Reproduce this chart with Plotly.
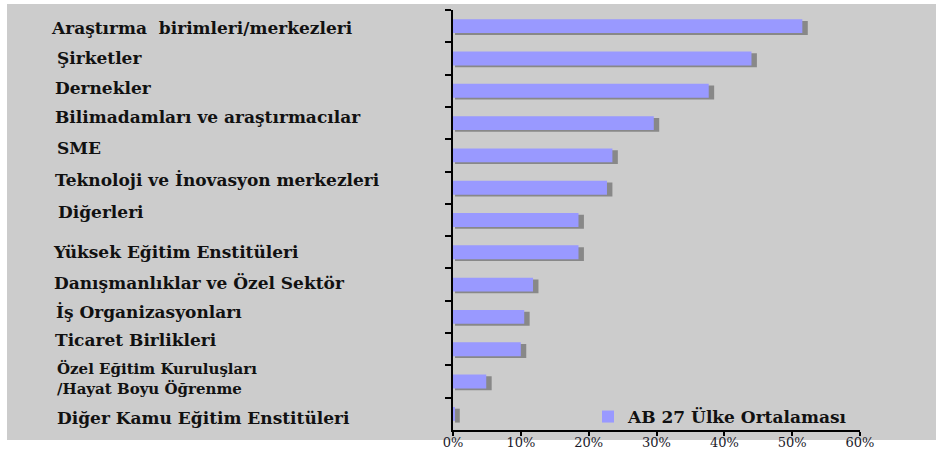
import plotly.graph_objects as go

categories = [
    "Araştırma  birimleri/merkezleri",
    "Şirketler",
    "Dernekler",
    "Bilimadamları ve araştırmacılar",
    "SME",
    "Teknoloji ve İnovasyon merkezleri",
    "Diğerleri",
    "Yüksek Eğitim Enstitüleri",
    "Danışmanlıklar ve Özel Sektör",
    "İş Organizasyonları",
    "Ticaret Birlikleri",
    "Özel Eğitim Kuruluşları<br>/Hayat Boyu Öğrenme",
    "Diğer Kamu Eğitim Enstitüleri",
]
values = [51.5, 44.0, 37.7, 29.6, 23.5, 22.7, 18.5, 18.5, 11.8, 10.5, 10.0, 4.9, 0.2]
series_name = "AB 27 Ülke Ortalaması"
tick_vals = [0, 10, 20, 30, 40, 50, 60]
tick_text = ["0%", "10%", "20%", "30%", "40%", "50%", "60%"]

# layout nudges for the left-side label text boxes (pixels, +dy = up)
label_dx = [-4, 2, 0, 0, 2, 0, 3, -2, -1, 1, 0, 2, 2]
label_dy = [-2, 0, 3, 6, 7, 8, 8, 0, 2, 5, 9, 3, -4]

W, H = 936, 453
L, R, T, B = 453, 76, 10, 23
pw = W - L - R
ph = H - T - B

BAR = "#9999FF"
SHADOW = "#888888"
BG = "#CCCCCC"
FONT = "DejaVu Serif"
bw = 0.43

fig = go.Figure()
# shadow
fig.add_trace(go.Bar(
    y=categories, x=[v + 0.5 for v in values], base=0.3, orientation="h",
    width=bw, offset=-bw / 2 + 0.055, marker=dict(color=SHADOW, line=dict(width=0)),
    showlegend=False, hoverinfo="skip"))
fig.add_trace(go.Bar(
    y=categories, x=values, orientation="h", name=series_name,
    width=bw, offset=-bw / 2, marker=dict(color=BAR, line=dict(width=0))))

ann = []
for i, c in enumerate(categories):
    multi = "<br>" in c
    ann.append(dict(
        x=(53 - L) / pw, xref="paper", y=c, yref="y",
        text="<b>%s</b>" % c.replace("<br>", "</b><br><b>"), showarrow=False,
        xanchor="left", yanchor="middle", align="left",
        xshift=label_dx[i], yshift=label_dy[i],
        font=dict(family=FONT, size=15 if multi else 17, color="#111111")))

fig.update_layout(
    width=W, height=H,
    margin=dict(l=L, r=R, t=T, b=B, autoexpand=False),
    paper_bgcolor="white", plot_bgcolor=BG,
    barmode="overlay",
    showlegend=True,
    legend=dict(x=(588 - L) / pw, y=(430 - 417) / ph, xanchor="left", yanchor="middle",
                bgcolor="rgba(0,0,0,0)", borderwidth=0,
                font=dict(family=FONT, size=17, color="#111111", weight="bold")),
    annotations=ann,
    shapes=[dict(type="rect", xref="paper", yref="paper",
                 x0=(7 - L) / pw, x1=(936 - L) / pw,
                 y0=(430 - 440) / ph, y1=(430 - 4) / ph,
                 fillcolor=BG, line=dict(width=0), layer="below")],
    xaxis=dict(range=[0, 60], tickvals=tick_vals, ticktext=tick_text, automargin=False,
               showgrid=False, zeroline=False, showline=True, linecolor="black", linewidth=1.5,
               ticks="outside", ticklen=4, tickcolor="black", tickwidth=1.5,
               ticklabelstandoff=-4,
               tickfont=dict(family=FONT, size=13, color="#1a1a2a")),
    yaxis=dict(type="category", categoryorder="array", categoryarray=categories,
               range=[len(categories) - 0.5, -0.5], showticklabels=False, automargin=False,
               showgrid=False, zeroline=False, showline=True, linecolor="black", linewidth=2,
               ticks="outside", ticklen=6, tickcolor="black", tickwidth=1.5,
               tickson="boundaries"),
    font=dict(family=FONT),
)
fig.write_html("out.html")
